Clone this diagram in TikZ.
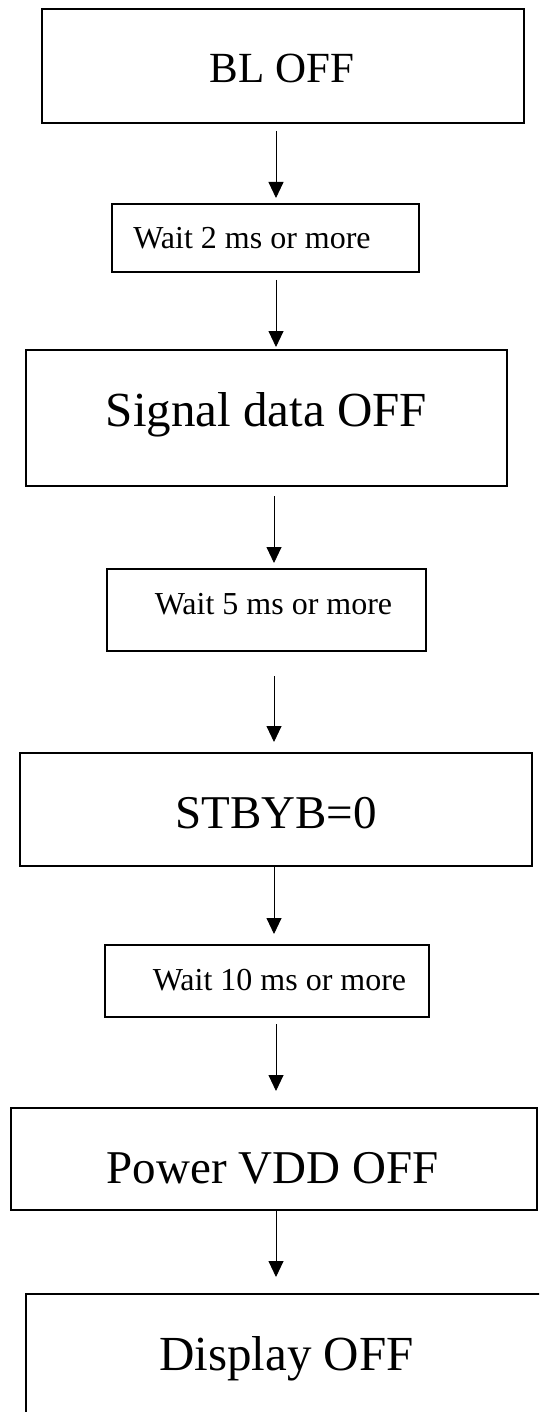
\documentclass[tikz,border=0pt]{standalone}
\usepackage{fontspec}
\setmainfont{Liberation Serif}
\usetikzlibrary{arrows.meta,calc}
\begin{document}
\begin{tikzpicture}[x=1pt,y=-1pt,
  box/.style={draw,line width=1.3pt,rectangle,anchor=north west,inner sep=0pt,outer sep=0pt},
  bigtxt/.style={anchor=base,inner sep=0pt,font=\fontsize{49}{58}\selectfont},
  bigntxt/.style={anchor=base,inner sep=0pt,font=\fontsize{47}{56}\selectfont},
  midtxt/.style={anchor=base,inner sep=0pt,font=\fontsize{43}{52}\selectfont},
  smalltxt/.style={anchor=base,inner sep=0pt,font=\fontsize{32}{38}\selectfont},
  arr/.style={-{Triangle[width=15pt,length=16pt]},line width=0.9pt}
]
\useasboundingbox (0,0) rectangle (539,1412);
\clip (0,0) rectangle (539,1412);

\coordinate (axA) at (276,0);
\coordinate (axB) at (274,0);

% boxes
\node[box,minimum width=482,minimum height=114] (b1) at (42,9) {};
\node[box,minimum width=307,minimum height=68]  (b2) at (112,204) {};
\node[box,minimum width=481,minimum height=136] (b3) at (26,350) {};
\node[box,minimum width=319,minimum height=82]  (b4) at (107,569) {};
\node[box,minimum width=512,minimum height=113] (b5) at (20,753) {};
\node[box,minimum width=324,minimum height=72]  (b6) at (105,945) {};
\node[box,minimum width=526,minimum height=102] (b7) at (11,1108) {};
\node[box,minimum width=540,minimum height=200] (b8) at (26,1294) {};

% texts
\node[midtxt]   (t1) at (282,83)     {BL OFF};
\node[smalltxt] (t2) at (252,249)    {Wait 2 ms or more};
\node[bigtxt]   (t3) at (266.5,426)  {Signal data OFF};
\node[smalltxt] (t4) at (273.5,614)  {Wait 5 ms or more};
\node[bigntxt]  (t5) at (276,828)    {STBYB=0};
\node[smalltxt] (t6) at (279.5,990)  {Wait 10 ms or more};
\node[bigntxt]  (t7) at (272.5,1183) {Power VDD OFF};
\node[bigtxt]   (t8) at (286.5,1370) {Display OFF};

% connectors
\draw[arr] ([yshift=-8pt]b1.south -| axA) -- ([yshift=6pt]b2.north -| axA);
\draw[arr] ([yshift=-8pt]b2.south -| axA) -- ([yshift=3pt]b3.north -| axA);
\draw[arr] ([yshift=-10pt]b3.south -| axB) -- ([yshift=6pt]b4.north -| axB);
\draw[arr] ([yshift=-25pt]b4.south -| axB) -- ([yshift=11pt]b5.north -| axB);
\draw[arr] (b5.south -| axB) -- ([yshift=11pt]b6.north -| axB);
\draw[arr] ([yshift=-7pt]b6.south -| axA) -- ([yshift=17pt]b7.north -| axA);
\draw[arr] (b7.south -| axA) -- ([yshift=17pt]b8.north -| axA);
\end{tikzpicture}
\end{document}
